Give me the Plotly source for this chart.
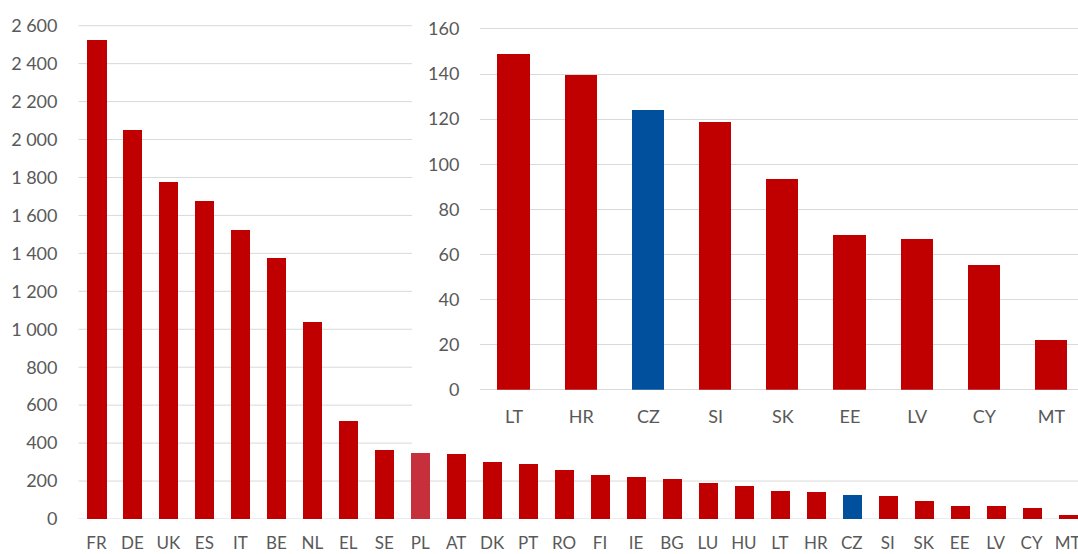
import plotly.graph_objects as go

# ---- data ----
main_countries = ["FR", "DE", "UK", "ES", "IT", "BE", "NL", "EL", "SE", "PL", "AT", "DK", "PT", "RO",
                  "FI", "IE", "BG", "LU", "HU", "LT", "HR", "CZ", "SI", "SK", "EE", "LV", "CY", "MT"]
main_values = [2521, 2050, 1775, 1674, 1521, 1377, 1035, 515, 362, 348, 341, 297, 290, 255,
               232, 218, 209, 188, 174, 148.9, 139.6, 124.4, 118.9, 93.8, 68.9, 67.0, 55.5, 22.0]

inset_countries = ["LT", "HR", "CZ", "SI", "SK", "EE", "LV", "CY", "MT"]
inset_values = [148.9, 139.6, 124.4, 118.9, 93.8, 68.9, 67.0, 55.5, 22.0]

main_ticks = list(range(0, 2601, 200))
inset_ticks = list(range(0, 161, 20))

RED = "#C00000"
PL_RED = "#C5303C"
BLUE = "#00509E"
GRID = "#D9D9D9"
TXT = "#595959"

W, H = 1078, 554


def col(c):
    if c == "CZ":
        return BLUE
    if c == "PL":
        return PL_RED
    return RED


fig = go.Figure()
fig.add_trace(go.Bar(x=main_countries, y=main_values, marker_color=[col(c) for c in main_countries],
                     marker_line_width=0, width=0.53, xaxis="x", yaxis="y", showlegend=False))
fig.add_trace(go.Bar(x=inset_countries, y=inset_values, marker_color=[col(c) for c in inset_countries],
                     marker_line_width=0, width=0.48, xaxis="x2", yaxis="y2", showlegend=False))

# main gridlines: upper ones hidden behind the inset panel
inset_left = 412 / W
main_left = 78.5 / W
shapes = []
for v in main_ticks:
    x1 = 1 if v < 400 else inset_left
    shapes.append(dict(type="line", xref="paper", yref="y", x0=main_left, x1=x1, y0=v, y1=v,
                       line=dict(color=GRID, width=1), layer="below"))

fig.update_layout(
    width=W, height=H,
    margin=dict(l=0, r=0, t=0, b=0),
    paper_bgcolor="white", plot_bgcolor="rgba(0,0,0,0)",
    font=dict(family="Lato", size=18, color=TXT),
    bargap=0,
    shapes=shapes,
    xaxis=dict(domain=[main_left, 1], range=[-0.5, 27.29], showgrid=False, zeroline=False,
               showline=False, ticks="", ticklabelstandoff=12, automargin=False, fixedrange=True,
               tickfont=dict(size=17)),
    yaxis=dict(domain=[(H - 519) / H, (H - 16.2) / H], range=[0, 2650], showgrid=False, zeroline=False,
               tickvals=main_ticks, ticktext=[f"{v:,}".replace(",", " ") for v in main_ticks],
               ticks="", ticklabelstandoff=20, automargin=False, showline=False),
    xaxis2=dict(domain=[480.4 / W, 1], range=[-0.5, 8.394], anchor="y2", showgrid=False, zeroline=False,
                showline=False, ticks="", ticklabelstandoff=14, automargin=False),
    yaxis2=dict(domain=[(H - 389.7) / H, (H - 17.7) / H], range=[0, 165], anchor="x2",
                tickvals=inset_ticks, showgrid=True, gridcolor=GRID, gridwidth=1,
                zeroline=True, zerolinecolor=GRID, zerolinewidth=1,
                ticks="", ticklabelstandoff=20, automargin=False, showline=False),
)

fig.write_html("out.html", config={"displayModeBar": False},
               post_script="document.body.style.margin='0';document.body.style.overflow='hidden';")
